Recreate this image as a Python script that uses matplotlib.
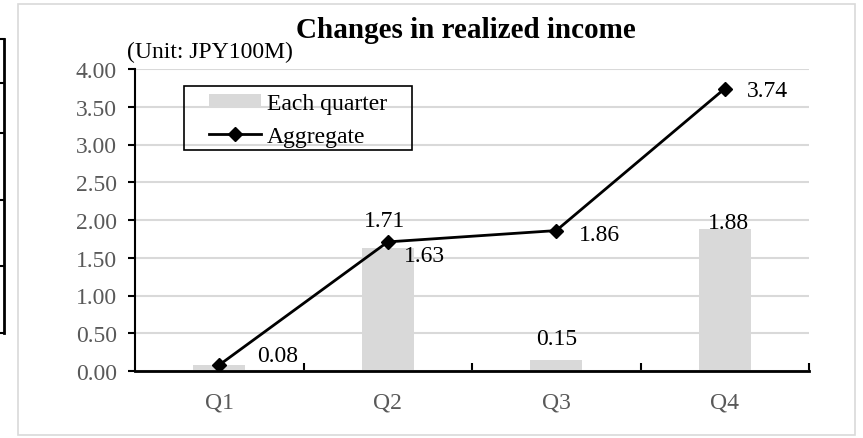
import matplotlib; matplotlib.use("Agg")
import matplotlib.pyplot as plt
from matplotlib.patches import Rectangle
from matplotlib.lines import Line2D

quarters = ["Q1", "Q2", "Q3", "Q4"]
each_quarter = [0.08, 1.63, 0.15, 1.88]
aggregate = [0.08, 1.71, 1.86, 3.74]
yticks = [0, 0.5, 1.0, 1.5, 2.0, 2.5, 3.0, 3.5, 4.0]

plt.rcParams["font.family"] = ["Liberation Serif", "DejaVu Serif"]
W, H = 863, 439
fig = plt.figure(figsize=(W / 100, H / 100), dpi=100)
ax = fig.add_axes([135 / W, 1 - 372 / H, 674 / W, 302 / H])

x = range(len(quarters))
ax.bar(x, each_quarter, width=0.31, color="#d9d9d9", zorder=2, label="Each quarter")
ax.plot(x, aggregate, color="black", lw=2, marker="D", ms=7, zorder=3, label="Aggregate")

ax.set_xlim(-0.5, 3.5); ax.set_ylim(0, 4)
ax.set_yticks(yticks)
ax.set_yticklabels([f"{v:.2f}" for v in yticks])
ax.set_xticks([0.5, 1.5, 2.5, 3.5])
ax.set_xticks(list(x), minor=True)
ax.set_xticklabels([])
ax.set_xticklabels(quarters, minor=True)
fs = 17
ax.tick_params(axis="x", which="major", direction="in", length=6, width=1.5, color="black")
ax.tick_params(axis="x", which="minor", length=0, pad=15, labelsize=fs, labelcolor="#595959")
ax.tick_params(axis="y", direction="out", length=5, width=1.5, color="black",
               labelsize=fs, labelcolor="#595959", pad=8)
ax.grid(axis="y", color="#d9d9d9", lw=1.5, zorder=0)
ax.set_axisbelow(True)
for s in ["top", "right"]:
    ax.spines[s].set_visible(False)
ax.spines["left"].set_linewidth(1.5)
ax.spines["bottom"].set_linewidth(2)

# bar labels
ax.annotate(f"{each_quarter[0]:.2f}", (0, each_quarter[0]), xytext=(27, -1), textcoords="offset points",
            ha="left", va="bottom", fontsize=fs)
ax.annotate(f"{each_quarter[1]:.2f}", (1, aggregate[1]), xytext=(12, -2), textcoords="offset points",
            ha="left", va="top", fontsize=fs)
ax.annotate(f"{each_quarter[2]:.2f}", (2, each_quarter[2]), xytext=(0, 8), textcoords="offset points",
            ha="center", va="bottom", fontsize=fs)
ax.annotate(f"{each_quarter[3]:.2f}", (3, each_quarter[3]), xytext=(3, -3), textcoords="offset points",
            ha="center", va="bottom", fontsize=fs)
# line labels
ax.annotate(f"{aggregate[1]:.2f}", (1, aggregate[1]), xytext=(-2, 8), textcoords="offset points",
            ha="center", va="bottom", fontsize=fs)
ax.annotate(f"{aggregate[2]:.2f}", (2, aggregate[2]), xytext=(16, -3), textcoords="offset points",
            ha="left", va="center", fontsize=fs)
ax.annotate(f"{aggregate[3]:.2f}", (3, aggregate[3]), xytext=(16, -1), textcoords="offset points",
            ha="left", va="center", fontsize=fs)

handles, labels = ax.get_legend_handles_labels()
order = [labels.index("Each quarter"), labels.index("Aggregate")]
leg = ax.legend([handles[i] for i in order], [labels[i] for i in order],
                loc="upper left", bbox_to_anchor=(74 / 674, 1 - 24 / 302), fontsize=fs,
                frameon=False, borderpad=0, borderaxespad=0,
                handlelength=2.2, handleheight=0.5, labelspacing=0.5, handletextpad=0.25)
# legend frame, drawn in pixels of the figure
fig.add_artist(Rectangle((184 / W, 1 - 151 / H), 228 / W, 64 / H, transform=fig.transFigure,
                         fill=False, ec="black", lw=1.2))

fig.text(466 / W, 1 - 30 / H, "Changes in realized income", ha="center", va="center",
         fontsize=21, fontweight="bold")
fig.text(127 / W, 1 - 52 / H, "(Unit: JPY100M)", ha="left", va="center", fontsize=fs)

# chart border and the cut-off table at the left edge
fig.add_artist(Rectangle((18 / W, 3 / H), 837 / W, 431 / H, transform=fig.transFigure,
                         fill=False, ec="#d9d9d9", lw=1.2))
fig.add_artist(Line2D([4 / W, 4 / W], [1 - 40 / H, 1 - 334 / H], transform=fig.transFigure, color="black", lw=2))
for yy in [40, 84, 134, 201, 267, 334]:
    fig.add_artist(Line2D([0, 4 / W], [1 - yy / H, 1 - yy / H], transform=fig.transFigure, color="black", lw=1.5))

fig.savefig("out.png", dpi=100)
